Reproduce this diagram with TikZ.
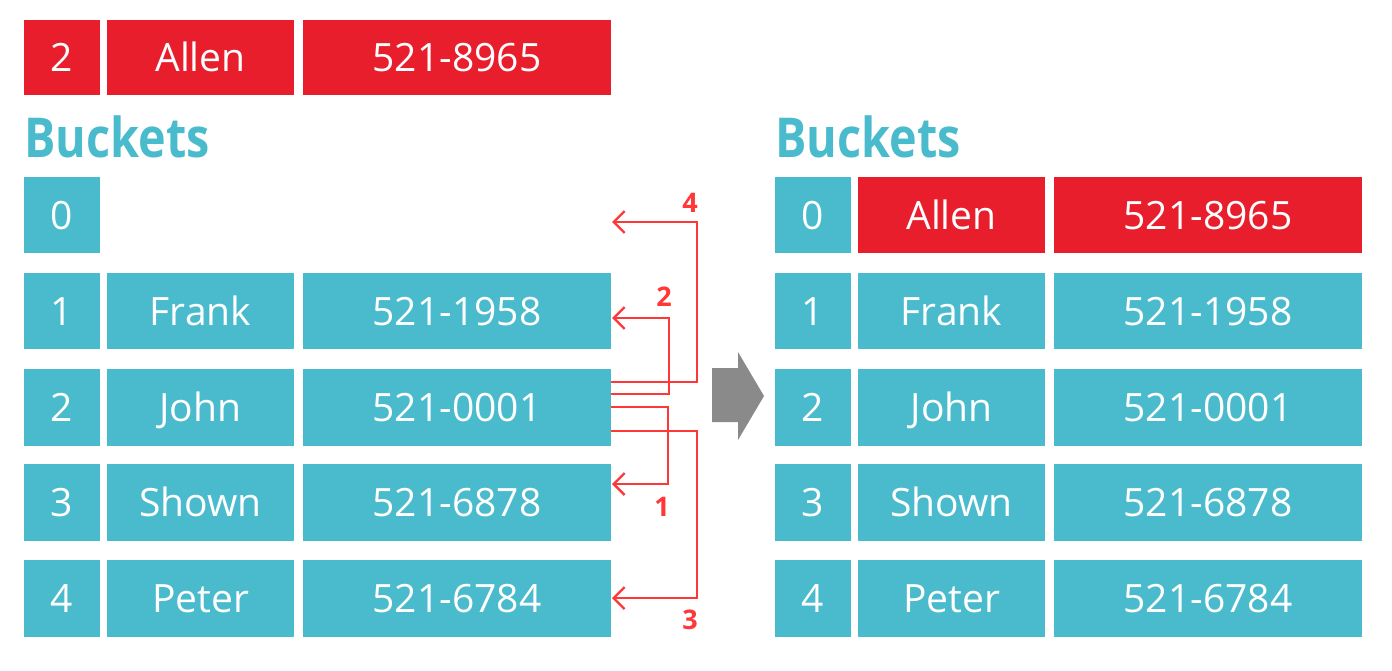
\documentclass[tikz,border=0pt]{standalone}
\usepackage{fontspec}
\setmainfont{Open Sans}
\usepackage{graphicx}
\usetikzlibrary{arrows.meta}
\definecolor{tealc}{RGB}{74,187,204}
\definecolor{redc}{RGB}{233,30,45}
\definecolor{arrc}{RGB}{255,55,55}
\definecolor{grayc}{RGB}{138,138,138}
\newcommand{\mkcell}[7]{%
  \node[cell, fill=#6, minimum width={#4-#2}, minimum height={#5-#3}] (#1) at ({(#2+#4)/2},{(#3+#5)/2}) {#7};}
\begin{document}
\begin{tikzpicture}[x=1pt,y=-1pt,
  cell/.style={inner sep=0pt, outer sep=0pt, text=white, text height=28pt, text depth=0pt,
    font=\fontsize{39}{42}\selectfont},
  title/.style={anchor=base west, inner sep=0pt, text=tealc,
    font=\fontsize{55}{60}\selectfont\bfseries},
  conn/.style={draw=arrc, line width=2.3pt, -{Straight Barb[length=11pt,width=22pt]}},
  lab/.style={text=arrc, inner sep=0pt, font=\fontsize{27}{29}\selectfont\bfseries}]
\useasboundingbox (0,0) rectangle (1392,670);
% new record
\mkcell{n1}{24}{20}{100}{95}{redc}{2}
\mkcell{n2}{107}{20}{294}{95}{redc}{Allen}
\mkcell{n3}{303}{20}{611}{95}{redc}{521-8965}
% titles
\node[title] (tl) at (24,157) {\scalebox{0.85}[1]{Buckets}};
\node[title] (tr) at (775,157) {\scalebox{0.85}[1]{Buckets}};
% left table
\mkcell{a0}{24}{177}{100}{253}{tealc}{0}
\mkcell{a1}{24}{273}{100}{349}{tealc}{1}
\mkcell{b1}{107}{273}{294}{349}{tealc}{Frank}
\mkcell{c1}{303}{273}{611}{349}{tealc}{521-1958}
\mkcell{a2}{24}{369}{100}{446}{tealc}{2}
\mkcell{b2}{107}{369}{294}{446}{tealc}{John}
\mkcell{c2}{303}{369}{611}{446}{tealc}{521-0001}
\mkcell{a3}{24}{464}{100}{541}{tealc}{3}
\mkcell{b3}{107}{464}{294}{541}{tealc}{Shown}
\mkcell{c3}{303}{464}{611}{541}{tealc}{521-6878}
\mkcell{a4}{24}{560}{100}{637}{tealc}{4}
\mkcell{b4}{107}{560}{294}{637}{tealc}{Peter}
\mkcell{c4}{303}{560}{611}{637}{tealc}{521-6784}
% right table
\mkcell{ra0}{775}{177}{851}{253}{tealc}{0}
\mkcell{rb0}{858}{177}{1045}{253}{redc}{Allen}
\mkcell{rc0}{1054}{177}{1362}{253}{redc}{521-8965}
\mkcell{ra1}{775}{273}{851}{349}{tealc}{1}
\mkcell{rb1}{858}{273}{1045}{349}{tealc}{Frank}
\mkcell{rc1}{1054}{273}{1362}{349}{tealc}{521-1958}
\mkcell{ra2}{775}{369}{851}{446}{tealc}{2}
\mkcell{rb2}{858}{369}{1045}{446}{tealc}{John}
\mkcell{rc2}{1054}{369}{1362}{446}{tealc}{521-0001}
\mkcell{ra3}{775}{464}{851}{541}{tealc}{3}
\mkcell{rb3}{858}{464}{1045}{541}{tealc}{Shown}
\mkcell{rc3}{1054}{464}{1362}{541}{tealc}{521-6878}
\mkcell{ra4}{775}{560}{851}{637}{tealc}{4}
\mkcell{rb4}{858}{560}{1045}{637}{tealc}{Peter}
\mkcell{rc4}{1054}{560}{1362}{637}{tealc}{521-6784}
% probing connectors
\coordinate (s4) at (611,382);
\coordinate (s2) at (611,394);
\coordinate (s1) at (611,407);
\coordinate (s3) at (611,431);
\coordinate (v4) at (697,300);
\coordinate (v2) at (669,350);
\coordinate (v1) at (668,450);
\coordinate (v3) at (697,500);
\coordinate (t4) at (612,222);
\coordinate (t2) at (612,318);
\coordinate (t1) at (612,484);
\coordinate (t3) at (612,598);
\draw[conn] (s4) -| (v4) |- (t4);
\draw[conn] (s2) -| (v2) |- (t2);
\draw[conn] (s1) -| (v1) |- (t1);
\draw[conn] (s3) -| (v3) |- (t3);
\node[lab] (l4) at (690,203) {4};
\node[lab] (l2) at (664,297) {2};
\node[lab] (l1) at (662,507) {1};
\node[lab] (l3) at (690,620) {3};
% big gray arrow
\fill[grayc] (712,368) -- (738,368) -- (738,352) -- (764,396) -- (738,440) -- (738,422) -- (712,422) -- cycle;
\end{tikzpicture}
\end{document}
